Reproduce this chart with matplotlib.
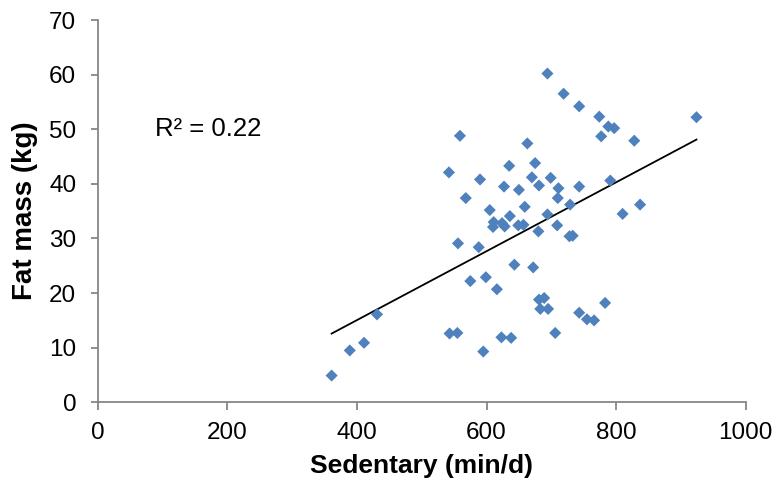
import numpy as np
import matplotlib
matplotlib.use('Agg')
import matplotlib.pyplot as plt

plt.rcParams['font.family'] = ['Liberation Sans', 'DejaVu Sans']

# sedentary time (min/d) and fat mass (kg)
sedentary = [361, 389, 411, 431, 543, 555, 595, 623, 638, 559,
             542, 590, 635, 627, 650, 568, 605, 636, 611, 610,
             624, 628, 649, 657, 556, 588, 643, 575, 599, 616,
             694, 719, 743, 774, 788, 797, 777, 828, 924, 663,
             675, 670, 699, 681, 711, 743, 791, 710, 659, 729,
             837, 810, 694, 680, 709, 728, 733, 672, 681, 689,
             683, 695, 743, 755, 766, 783, 706]
fat_mass = [4.9, 9.5, 10.9, 16.1, 12.6, 12.7, 9.3, 11.9, 11.8, 48.8,
            42.1, 40.8, 43.3, 39.5, 38.9, 37.4, 35.2, 34.1, 33.0, 32.1,
            32.8, 32.2, 32.4, 32.5, 29.1, 28.4, 25.2, 22.2, 22.9, 20.7,
            60.2, 56.5, 54.2, 52.3, 50.5, 50.2, 48.7, 47.9, 52.2, 47.4,
            43.8, 41.2, 41.1, 39.7, 39.2, 39.5, 40.6, 37.4, 35.8, 36.2,
            36.2, 34.5, 34.4, 31.3, 32.4, 30.4, 30.5, 24.7, 18.8, 19.1,
            17.1, 17.1, 16.4, 15.2, 15.0, 18.2, 12.7]
r2_label = 'R² = 0.22'

x = np.array(sedentary)
y = np.array(fat_mass)

fig = plt.figure(figsize=(7.78, 4.88), dpi=100)
ax = fig.add_axes([0.1256, 0.1756, 0.8329, 0.7834])

ax.scatter(x, y, marker='D', s=38, color='#4F81BD', edgecolors='none', zorder=3)

# linear trendline
slope, icpt = np.polyfit(x, y, 1)
xt = np.array([x.min(), x.max()])
ax.plot(xt, slope * xt + icpt, color='black', lw=1.3, zorder=2)

ax.text(88, 50, r2_label, fontsize=18.5, va='center', ha='left')

ax.set_xlim(0, 1000)
ax.set_ylim(0, 70)
ax.set_xticks(np.arange(0, 1001, 200))
ax.set_yticks(np.arange(0, 71, 10))

for s in ['top', 'right']:
    ax.spines[s].set_visible(False)
for s in ['left', 'bottom']:
    ax.spines[s].set_color('#868686')
    ax.spines[s].set_linewidth(1.3)
ax.tick_params(axis='both', direction='out', length=5.4, width=1.3,
               color='#868686', labelsize=17.5)
ax.tick_params(axis='x', pad=9)
ax.tick_params(axis='y', pad=10)

ax.set_xlabel('Sedentary (min/d)', fontsize=19, fontweight='bold', labelpad=7)
ax.set_ylabel('Fat mass (kg)', fontsize=20, fontweight='bold', labelpad=8)

fig.savefig('out.png', dpi=100)
